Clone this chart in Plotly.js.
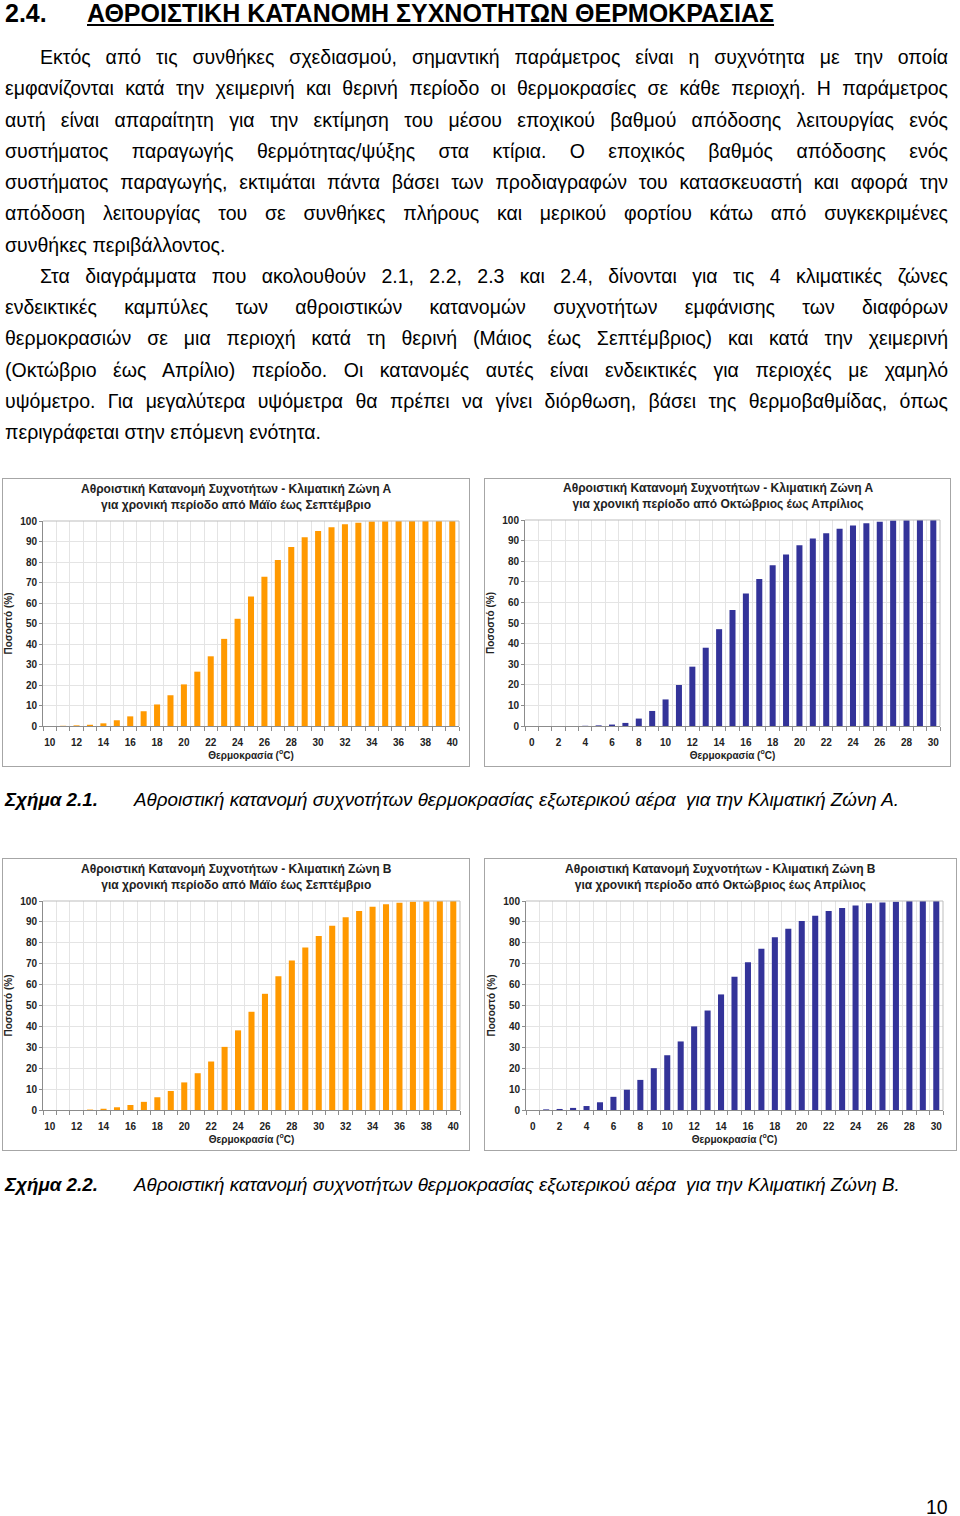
<!DOCTYPE html>
<html>
<head>
<meta charset="utf-8">
<script src="https://cdn.plot.ly/plotly-3.0.1.min.js"></script>
<style>
  html, body { margin:0; padding:0; background:#fff; }
  body { width:960px; height:1516px; position:relative; overflow:hidden;
         font-family:"Liberation Sans", Arial, sans-serif; color:#000; }
  .ln { position:absolute; left:5px; width:943px; font-size:19.5px; line-height:22px;
        white-space:nowrap; }
  .j { text-align:justify; text-align-last:justify; white-space:normal; }
  .ind { left:40px; width:908px; }
  .chart { position:absolute; border:1px solid #a6a6a6; box-sizing:border-box; background:#fff; }
  .cap { position:absolute; font-size:18.8px; line-height:22px; font-style:italic; white-space:nowrap; }
</style>
</head>
<body>
<div style="position:absolute;left:5px;top:-1px;font-size:25px;font-weight:bold;line-height:28px;">2.4.</div>
<div style="position:absolute;left:87px;top:-1px;font-size:25px;font-weight:bold;line-height:28px;text-decoration:underline;white-space:nowrap;">ΑΘΡΟΙΣΤΙΚΗ ΚΑΤΑΝΟΜΗ ΣΥΧΝΟΤΗΤΩΝ ΘΕΡΜΟΚΡΑΣΙΑΣ</div>

<div class="ln j ind" style="top:46px">Εκτός από τις συνθήκες σχεδιασμού, σημαντική παράμετρος είναι η συχνότητα με την οποία</div>
<div class="ln j" style="top:77px">εμφανίζονται κατά την χειμερινή και θερινή περίοδο οι θερμοκρασίες σε κάθε περιοχή. Η παράμετρος</div>
<div class="ln j" style="top:109px">αυτή είναι απαραίτητη για την εκτίμηση του μέσου εποχικού βαθμού απόδοσης λειτουργίας ενός</div>
<div class="ln j" style="top:140px">συστήματος παραγωγής θερμότητας/ψύξης στα κτίρια. Ο εποχικός βαθμός απόδοσης ενός</div>
<div class="ln j" style="top:171px">συστήματος παραγωγής, εκτιμάται πάντα βάσει των προδιαγραφών του κατασκευαστή και αφορά την</div>
<div class="ln j" style="top:202px">απόδοση λειτουργίας του σε συνθήκες πλήρους και μερικού φορτίου κάτω από συγκεκριμένες</div>
<div class="ln" style="top:234px">συνθήκες περιβάλλοντος.</div>
<div class="ln j ind" style="top:265px">Στα διαγράμματα που ακολουθούν 2.1, 2.2, 2.3 και 2.4, δίνονται για τις 4 κλιματικές ζώνες</div>
<div class="ln j" style="top:296px">ενδεικτικές καμπύλες των αθροιστικών κατανομών συχνοτήτων εμφάνισης των διαφόρων</div>
<div class="ln j" style="top:327px">θερμοκρασιών σε μια περιοχή κατά τη θερινή (Μάιος έως Σεπτέμβριος) και κατά την χειμερινή</div>
<div class="ln j" style="top:359px">(Οκτώβριο έως Απρίλιο) περίοδο. Οι κατανομές αυτές είναι ενδεικτικές για περιοχές με χαμηλό</div>
<div class="ln j" style="top:390px">υψόμετρο. Για μεγαλύτερα υψόμετρα θα πρέπει να γίνει διόρθωση, βάσει της θερμοβαθμίδας, όπως</div>
<div class="ln" style="top:421px">περιγράφεται στην επόμενη ενότητα.</div>

<div id="c1" class="chart" style="left:2px;top:478px;width:468px;height:289px;"></div>
<div id="c2" class="chart" style="left:484px;top:478px;width:467px;height:289px;"></div>
<div id="c3" class="chart" style="left:2px;top:858px;width:468px;height:293px;"></div>
<div id="c4" class="chart" style="left:484px;top:858px;width:473px;height:293px;"></div>

<div class="cap" style="left:5px;top:789px;font-weight:bold;">Σχήμα 2.1.</div>
<div class="cap" style="left:134px;top:789px;">Αθροιστική κατανομή συχνοτήτων θερμοκρασίας εξωτερικού αέρα&nbsp; για την Κλιματική Ζώνη Α.</div>
<div class="cap" style="left:5px;top:1174px;font-weight:bold;">Σχήμα 2.2.</div>
<div class="cap" style="left:134px;top:1174px;">Αθροιστική κατανομή συχνοτήτων θερμοκρασίας εξωτερικού αέρα&nbsp; για την Κλιματική Ζώνη Β.</div>

<div style="position:absolute;left:926px;top:1496px;font-size:19.5px;line-height:22px;">10</div>

<script>
// ---- Data ----
const summerTemps = [10,11,12,13,14,15,16,17,18,19,20,21,22,23,24,25,26,27,28,29,30,31,32,33,34,35,36,37,38,39,40];
const winterTemps = [0,1,2,3,4,5,6,7,8,9,10,11,12,13,14,15,16,17,18,19,20,21,22,23,24,25,26,27,28,29,30];
const summerTickVals = [10,12,14,16,18,20,22,24,26,28,30,32,34,36,38,40];
const winterTickVals = [0,2,4,6,8,10,12,14,16,18,20,22,24,26,28,30];

const zoneA_summer = [0,0.1,0.3,0.6,1.3,2.8,4.7,7.2,10.5,15.0,20.3,26.5,34.0,42.5,52.3,63.2,72.8,81.0,87.3,92.1,95.1,97.0,98.4,99.2,99.7,99.9,100,100,100,100,100];
const zoneA_winter = [0,0,0,0,0.1,0.3,0.7,1.5,3.6,7.3,12.9,19.9,28.8,38.0,47.0,56.3,64.3,71.3,78.0,83.3,87.7,91.0,93.6,95.8,97.3,98.4,99.2,99.7,99.9,100,100];
const zoneB_summer = [0,0,0,0.2,0.6,1.3,2.4,3.9,6.1,9.1,13.2,17.6,23.2,30.2,38.1,47.0,55.6,64.0,71.5,77.8,83.3,88.1,92.2,95.2,97.3,98.4,99.2,99.6,99.9,100,100];
const zoneB_winter = [0,0.3,0.5,1.0,1.9,3.7,6.3,9.7,14.4,20.0,26.2,32.8,40.0,47.6,55.3,63.8,70.7,77.1,82.7,86.7,90.4,93.0,95.2,96.6,97.8,98.9,99.3,99.7,100,100,100];

const titleA_summer = "Αθροιστική Κατανομή Συχνοτήτων - Κλιματική Ζώνη Α<br>για χρονική περίοδο από Μάϊο έως Σεπτέμβριο";
const titleA_winter = "Αθροιστική Κατανομή Συχνοτήτων - Κλιματική Ζώνη Α<br>για χρονική περίοδο από Οκτώβριος έως Απρίλιος";
const titleB_summer = "Αθροιστική Κατανομή Συχνοτήτων - Κλιματική Ζώνη Β<br>για χρονική περίοδο από Μάϊο έως Σεπτέμβριο";
const titleB_winter = "Αθροιστική Κατανομή Συχνοτήτων - Κλιματική Ζώνη Β<br>για χρονική περίοδο από Οκτώβριος έως Απρίλιος";

const orange = "#FF9900";
const blue = "#333399";
const FONT = '"Liberation Sans", Arial, sans-serif';

function makeChart(id, xs, ys, color, title, tickvals, w, h, m) {
  const x0 = xs[0], x1 = xs[xs.length-1];
  const plotW = w - m.l - m.r, plotH = h - m.t - m.b;
  const trace = { type:'bar', x: xs, y: ys, marker:{ color: color, line:{width:0} }, hoverinfo:'x+y' };
  const layout = {
    width: w, height: h,
    margin: m,
    paper_bgcolor:'#fff', plot_bgcolor:'#fff',
    showlegend:false,
    bargap: 0.55,
    font:{ family: FONT, color:'#222', size:10 },
    annotations:[{
      text: title, showarrow:false,
      xref:'paper', yref:'paper',
      x: (w/2 - m.l) / plotW, y: 1 + 7/plotH,
      xanchor:'center', yanchor:'bottom', align:'center',
      font:{ family: FONT, size:12, color:'#222', weight:'bold' }
    }],
    xaxis:{
      range:[x0-0.5, x1+0.5], tickmode:'array', tickvals: tickvals, ticktext: tickvals.map(String),
      showgrid:false, zeroline:false,
      ticks:'', ticklen:0, ticklabelstandoff: 7,
      tickfont:{ family: FONT, size:10, color:'#222', weight:'bold' },
      showline:true, linecolor:'#8c8c8c', linewidth:1, mirror:false,
      minor:{ tick0: x0-0.5, dtick:1, showgrid:true, gridcolor:'#e4e4e4', gridwidth:1, ticks:'outside', ticklen:4, tickcolor:'#8c8c8c' },
      title:{ text:'Θερμοκρασία (<sup>o</sup>C)', standoff:4, font:{ family: FONT, size:10, color:'#222', weight:'bold' } },
      fixedrange:true
    },
    yaxis:{
      range:[0,100], tickmode:'linear', tick0:0, dtick:10,
      showgrid:true, gridcolor:'#e4e4e4', gridwidth:1, zeroline:false,
      ticks:'outside', ticklen:3, tickcolor:'#8c8c8c',
      tickfont:{ family: FONT, size:10, color:'#222', weight:'bold' },
      showline:true, linecolor:'#8c8c8c', linewidth:1,
      title:{ text:'Ποσοστό (%)', standoff:5, font:{ family: FONT, size:10, color:'#222', weight:'bold' } },
      fixedrange:true
    },
    shapes:[
      { type:'line', xref:'paper', yref:'paper', x0:1, x1:1, y0:0, y1:1, line:{ color:'#bdbdbd', width:1 } },
      { type:'line', xref:'paper', yref:'paper', x0:0, x1:1, y0:1, y1:1, line:{ color:'#bdbdbd', width:1 } }
    ]
  };
  Plotly.newPlot(id, [trace], layout, { staticPlot:true, displayModeBar:false });
}

makeChart('c1', summerTemps, zoneA_summer, orange, titleA_summer, summerTickVals, 466, 287, {l:40, r:10, t:42, b:40});
makeChart('c2', winterTemps, zoneA_winter, blue,   titleA_winter, winterTickVals, 465, 287, {l:40, r:10, t:41, b:40});
makeChart('c3', summerTemps, zoneB_summer, orange, titleB_summer, summerTickVals, 466, 291, {l:40, r:9,  t:42, b:40});
makeChart('c4', winterTemps, zoneB_winter, blue,   titleB_winter, winterTickVals, 471, 291, {l:41, r:13, t:42, b:40});
</script>
</body>
</html>
